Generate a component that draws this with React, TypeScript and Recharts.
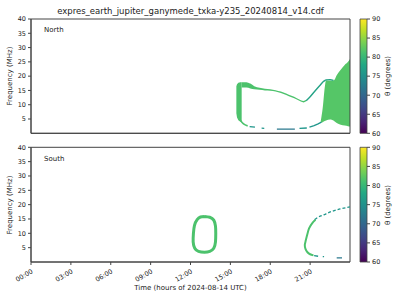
import React from "react";
import {
  ComposedChart,
  Line,
  Area,
  XAxis,
  YAxis,
  ReferenceArea,
  BarChart,
  Bar,
} from "recharts";

// axis ticks
const hourTicks = [0, 3, 6, 9, 12, 15, 18, 21];
const freqTicks = [5, 10, 15, 20, 25, 30, 35, 40];
const thetaTicks = [60, 65, 70, 75, 80, 85, 90];
const thetaRange = [{ k: "theta", v: [60, 90] }];

// North hemisphere emission (hours, MHz)
const northLeftEdge = [
  { h: 15.45, r: [7.0, 16.5] },
  { h: 15.5, r: [5.5, 17.2] },
  { h: 15.6, r: [4.6, 17.7] },
  { h: 15.75, r: [4.0, 17.9] },
  { h: 15.85, r: [3.6, 17.9] },
];
const northTopBand = [
  { h: 15.85, r: [16.0, 17.9] },
  { h: 16.2, r: [16.0, 17.9] },
  { h: 16.5, r: [15.7, 17.4] },
  { h: 16.8, r: [15.4, 16.5] },
  { h: 17.2, r: [15.2, 15.9] },
  { h: 17.6, r: [15.0, 15.6] },
  { h: 18.0, r: [14.9, 15.4] },
  { h: 18.4, r: [14.6, 15.1] },
  { h: 18.8, r: [14.1, 14.6] },
  { h: 19.2, r: [13.4, 13.9] },
  { h: 19.6, r: [12.6, 13.1] },
  { h: 20.0, r: [11.8, 12.3] },
  { h: 20.3, r: [11.1, 11.6] },
  { h: 20.5, r: [10.8, 11.3] },
  { h: 20.7, r: [11.2, 11.7] },
];
const northRise = [
  { h: 20.7, f: 11.4 },
  { h: 21.0, f: 12.8 },
  { h: 21.4, f: 15.0 },
  { h: 21.8, f: 17.1 },
  { h: 22.0, f: 18.1 },
  { h: 22.2, f: 18.7 },
  { h: 22.5, f: 18.8 },
  { h: 22.75, f: 18.5 },
];
const northBlock = [
  { h: 21.8, r: [3.7, 4.3] },
  { h: 21.95, r: [3.9, 9.0] },
  { h: 22.1, r: [4.3, 16.0] },
  { h: 22.2, r: [4.5, 18.6] },
  { h: 22.5, r: [4.8, 18.5] },
  { h: 22.8, r: [4.3, 18.6] },
  { h: 23.0, r: [3.6, 20.3] },
  { h: 23.3, r: [3.0, 22.2] },
  { h: 23.6, r: [2.7, 23.9] },
  { h: 23.85, r: [2.5, 25.0] },
  { h: 24.0, r: [2.4, 26.0] },
];
const northLowCurve = [
  { h: 15.75, f: 4.6 },
  { h: 15.9, f: 3.7 },
  { h: 16.05, f: 3.1 },
  { h: 16.3, f: 2.6 },
];
const northLowDashes = [
  { h: 16.45, f: 2.35 },
  { h: 16.85, f: 2.15 },
  { h: 16.9, f: null },
  { h: 17.35, f: 1.8 },
  { h: 17.55, f: 1.75 },
  { h: 17.6, f: null },
  { h: 20.2, f: 1.75 },
  { h: 20.75, f: 1.85 },
  { h: 20.8, f: null },
  { h: 20.95, f: 2.2 },
  { h: 21.3, f: 2.7 },
  { h: 21.6, f: 3.3 },
  { h: 21.85, f: 3.9 },
];
const northLowDark = [
  { h: 18.5, f: 1.45 },
  { h: 19.85, f: 1.45 },
];

// South hemisphere emission
const southOval = [
  { h: 13.05, f: 15.9 },
  { h: 13.45, f: 15.6 },
  { h: 13.75, f: 14.6 },
  { h: 13.88, f: 12.5 },
  { h: 13.9, f: 10.0 },
  { h: 13.88, f: 7.0 },
  { h: 13.75, f: 4.8 },
  { h: 13.45, f: 3.7 },
  { h: 13.05, f: 3.4 },
  { h: 12.6, f: 3.7 },
  { h: 12.32, f: 4.8 },
  { h: 12.2, f: 7.0 },
  { h: 12.22, f: 10.0 },
  { h: 12.3, f: 12.8 },
  { h: 12.5, f: 14.8 },
  { h: 12.75, f: 15.7 },
  { h: 13.05, f: 15.9 },
];
const southArc = [
  { h: 21.4, f: 14.7 },
  { h: 21.15, f: 13.5 },
  { h: 20.92, f: 11.7 },
  { h: 20.78, f: 9.5 },
  { h: 20.66, f: 7.3 },
  { h: 20.6, f: 5.9 },
  { h: 20.65, f: 4.6 },
  { h: 20.8, f: 3.4 },
  { h: 21.0, f: 2.7 },
  { h: 21.25, f: 2.3 },
];
const southUpper = [
  { h: 21.35, f: 14.8 },
  { h: 21.6, f: 15.6 },
  { h: 22.0, f: 16.4 },
  { h: 22.6, f: 17.6 },
  { h: 23.25, f: 18.5 },
  { h: 24.0, f: 19.2 },
];
const southLowDashes = [
  { h: 21.3, f: 2.2 },
  { h: 21.6, f: 2.0 },
  { h: 21.65, f: null },
  { h: 21.95, f: 1.85 },
  { h: 22.05, f: 1.85 },
];
const southLowDark = [
  { h: 23.0, f: 1.45 },
  { h: 23.4, f: 1.45 },
];

const viridis = ["#440154", "#482475", "#414487", "#355f8d", "#2a788e", "#21918c", "#22a884", "#44bf70", "#7ad151", "#bddf26", "#fde725"];

const TXT = "#222";
const FRAME = "#444";

const fmtHour = (v: number) => `${String(v).padStart(2, "0")}:00`;

const XTick = (props: any) => {
  const { x, y, payload } = props;
  const ax = x;
  const ay = y + 1.5;
  return (
    <text x={ax} y={ay} transform={`rotate(-30 ${ax} ${ay})`} textAnchor="end" fontSize={6.5} fill={TXT} dy="0.75em">
      {fmtHour(payload.value)}
    </text>
  );
};

const Panel = ({ top, height, mTop, xHeight, showLabels, children }: any) => (
  <div style={{ position: "absolute", left: 0, top, width: 400, height }}>
    <ComposedChart width={400} height={height} margin={{ top: mTop, right: 50, bottom: 0, left: 0 }}>
      <XAxis
        dataKey="h"
        type="number"
        domain={[0, 24]}
        ticks={hourTicks}
        allowDataOverflow
        height={xHeight}
        tickSize={3}
        axisLine={{ stroke: FRAME }}
        tickLine={{ stroke: FRAME }}
        tick={showLabels ? <XTick /> : false}
        interval={0}
      />
      <YAxis
        type="number"
        domain={[0, 40]}
        ticks={freqTicks}
        allowDataOverflow
        width={31}
        tickSize={3}
        axisLine={{ stroke: FRAME }}
        tickLine={{ stroke: FRAME }}
        tick={{ fontSize: 6.5, fill: TXT }}
        interval={0}
      />
      {children}
      <ReferenceArea x1={0} x2={24} y1={0} y2={40} fill="none" fillOpacity={0} stroke={FRAME} strokeWidth={1} />
    </ComposedChart>
  </div>
);

const ColorBar = ({ top, height, mTop, mBottom, id }: any) => (
  <div style={{ position: "absolute", left: 355, top, width: 45, height }}>
    <BarChart width={45} height={height} data={thetaRange} margin={{ top: mTop, right: 0, bottom: mBottom, left: 5 }} barCategoryGap={0}>
      <defs>
        <linearGradient id={id} x1="0" y1="1" x2="0" y2="0">
          {viridis.map((c, i) => (
            <stop key={i} offset={`${i * 10}%`} stopColor={c} />
          ))}
        </linearGradient>
      </defs>
      <XAxis dataKey="k" hide />
      <YAxis
        orientation="right"
        type="number"
        domain={[60, 90]}
        ticks={thetaTicks}
        width={33}
        tickSize={3}
        axisLine={false}
        tickLine={{ stroke: FRAME }}
        tick={{ fontSize: 6.5, fill: TXT }}
        interval={0}
      />
      <Bar dataKey="v" fill={`url(#${id})`} stroke={FRAME} strokeWidth={0.8} isAnimationActive={false} />
    </BarChart>
  </div>
);

const label: React.CSSProperties = { position: "absolute", fontSize: 7, color: TXT, whiteSpace: "nowrap" };
const vLabel = (left: number, top: number): React.CSSProperties => ({
  ...label,
  left,
  top,
  transform: "translate(-50%, -50%) rotate(-90deg)",
});

const GREEN = "#4cc26c";
const GREEN2 = "#55c667";
const TEAL = "#25a386";
const TEAL2 = "#1f968b";
const DARK = "#2a788e";

export default function App() {
  return (
    <div style={{ position: "absolute", left: 0, top: 0, width: 400, height: 300, background: "#fff", fontFamily: "'DejaVu Sans', sans-serif" }}>
      <div style={{ ...label, fontSize: 8.5, left: 190.5, top: 11, transform: "translate(-50%, -50%)" }}>
        expres_earth_jupiter_ganymede_txka-y235_20240814_v14.cdf
      </div>

      <Panel top={0} height={140} mTop={19} xHeight={6.7} showLabels={false}>
        <Area data={northLeftEdge} dataKey="r" type="linear" stroke="none" fill={GREEN} fillOpacity={1} isAnimationActive={false} />
        <Area data={northTopBand} dataKey="r" type="monotone" stroke="none" fill={GREEN} fillOpacity={1} isAnimationActive={false} />
        <Area data={northBlock} dataKey="r" type="monotone" stroke="none" fill={GREEN2} fillOpacity={1} isAnimationActive={false} />
        <Line data={northRise} dataKey="f" type="monotone" stroke={TEAL} strokeWidth={1.4} dot={false} isAnimationActive={false} />
        <Line data={northLowCurve} dataKey="f" type="monotone" stroke={GREEN} strokeWidth={1.6} dot={false} isAnimationActive={false} />
        <Line data={northLowDashes} dataKey="f" type="linear" stroke={TEAL2} strokeWidth={1.3} dot={false} connectNulls={false} isAnimationActive={false} />
        <Line data={northLowDark} dataKey="f" type="linear" stroke={DARK} strokeWidth={1.3} dot={false} isAnimationActive={false} />
      </Panel>

      <Panel top={140} height={160} mTop={7.3} xHeight={38} showLabels={true}>
        <Line data={southOval} dataKey="f" type="natural" stroke={GREEN} strokeWidth={3} dot={false} isAnimationActive={false} />
        <Line data={southArc} dataKey="f" type="natural" stroke={GREEN} strokeWidth={2} dot={false} isAnimationActive={false} />
        <Line data={southUpper} dataKey="f" type="monotone" stroke={TEAL2} strokeWidth={1.3} strokeDasharray="3 2" dot={false} isAnimationActive={false} />
        <Line data={southLowDashes} dataKey="f" type="linear" stroke={TEAL2} strokeWidth={1.3} dot={false} connectNulls={false} isAnimationActive={false} />
        <Line data={southLowDark} dataKey="f" type="linear" stroke={DARK} strokeWidth={1.3} dot={false} isAnimationActive={false} />
      </Panel>

      <ColorBar top={0} height={140} mTop={19} mBottom={6.7} id="viridisN" />
      <ColorBar top={140} height={160} mTop={7.3} mBottom={38} id="viridisS" />

      <div style={{ ...label, left: 44, top: 26 }}>North</div>
      <div style={{ ...label, left: 44, top: 155 }}>South</div>
      <div style={vLabel(10, 76)}>Frequency (MHz)</div>
      <div style={vLabel(10, 205)}>Frequency (MHz)</div>
      <div style={vLabel(388, 76)}>θ (degrees)</div>
      <div style={vLabel(388, 205)}>θ (degrees)</div>
      <div style={{ ...label, left: 190.5, top: 287.5, transform: "translate(-50%, -50%)" }}>
        Time (hours of 2024-08-14 UTC)
      </div>
    </div>
  );
}
